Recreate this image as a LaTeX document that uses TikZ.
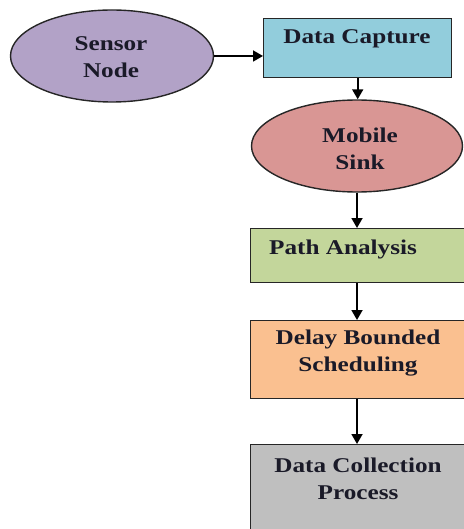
\documentclass[tikz,border=0pt]{standalone}
\usepackage{fontspec}
\setmainfont{Liberation Serif}[FakeStretch=1.2]
\usetikzlibrary{shapes.geometric,arrows.meta,calc}

\definecolor{sensorfill}{HTML}{B2A2C7}
\definecolor{capfill}{HTML}{92CDDC}
\definecolor{sinkfill}{HTML}{D99694}
\definecolor{pathfill}{HTML}{C3D69B}
\definecolor{delayfill}{HTML}{FAC090}
\definecolor{collfill}{HTML}{BFBFBF}
\definecolor{edge}{HTML}{262626}
\definecolor{ink}{HTML}{1A1A28}

\tikzset{
  shapeline/.style={draw=edge, line width=1.4pt},
  oval/.style={shapeline, ellipse, inner sep=0pt},
  block/.style={shapeline, rectangle, inner sep=0pt, anchor=north west},
  lbl/.style={text=ink, font=\fontsize{21}{27}\selectfont\bfseries, align=center, inner sep=0pt},
  flow/.style={draw=black, line width=1.8pt, -{Triangle[length=10pt,width=11pt]}}
}

\begin{document}
\begin{tikzpicture}[x=1pt,y=-1pt]
  \useasboundingbox (0,0) rectangle (463,529);

  % shapes
  \node[oval, fill=sensorfill, minimum width=203pt, minimum height=92pt] (sensor) at (112,56) {};
  \node[block, fill=capfill, minimum width=188pt, minimum height=59pt] (cap) at (263,18) {};
  \node[oval, fill=sinkfill, minimum width=211pt, minimum height=92pt] (sink) at (357,146) {};
  \node[block, fill=pathfill, minimum width=225pt, minimum height=54pt] (path) at (250,228) {};
  \node[block, fill=delayfill, minimum width=225pt, minimum height=78pt] (delay) at (250,320) {};
  \node[block, fill=collfill, minimum width=225pt, minimum height=100pt] (coll) at (250,444) {};

  % labels
  \node[lbl] (sensorT) at (111,57) {Sensor\\Node};
  \node[lbl] (capT) at (357,39) {Data Capture};
  \node[lbl] (sinkT) at (360,149) {Mobile\\Sink};
  \node[lbl] (pathT) at (343,249) {Path Analysis};
  \node[lbl] (delayT) at (358,353) {Delay Bounded\\Scheduling};
  \node[lbl] (collT) at (358,479) {Data Collection\\Process};

  % connectors
  \draw[flow] (sensor.east) -- (sensor.east -| cap.west);
  \draw[flow] (cap.south) -- (cap.south |- sink.north);
  \draw[flow] (sink.south) -- (sink.south |- path.north);
  \draw[flow] (sink.south |- path.south) -- (sink.south |- delay.north);
  \draw[flow] (sink.south |- delay.south) -- (sink.south |- coll.north);
\end{tikzpicture}
\end{document}
